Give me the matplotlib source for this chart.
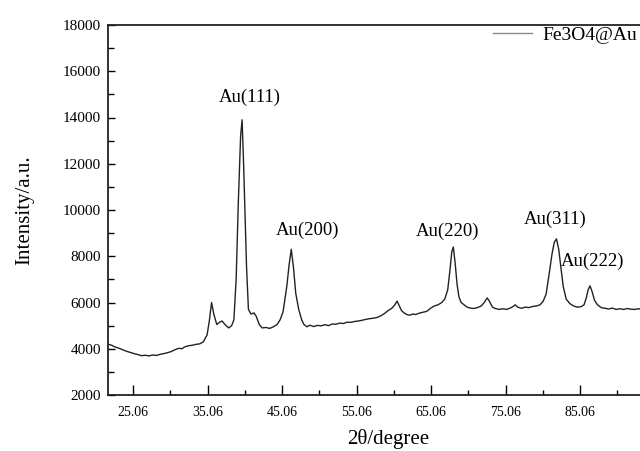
import numpy as np
import matplotlib
matplotlib.use("Agg")
import matplotlib.pyplot as plt
from matplotlib.ticker import MultipleLocator, FixedLocator

plt.rcParams['font.family'] = ['Liberation Serif', 'DejaVu Serif']

# XRD pattern
two_theta = [
    21.7, 22.2, 22.7, 23.2, 23.7, 24.2, 24.7, 25.2, 25.7, 26.2, 26.7, 27.2, 27.7, 28.2,
    28.7, 29.2, 29.7, 30.2, 30.7, 31.2, 31.6, 32.0, 32.5, 33.0, 33.5, 34.0, 34.5, 35.0,
    35.3, 35.6, 35.9, 36.3, 36.7, 37.0, 37.4, 37.9, 38.3, 38.6, 38.9, 39.2, 39.5, 39.7,
    39.9, 40.1, 40.3, 40.55, 40.9, 41.3, 41.6, 42.0, 42.4, 42.9, 43.4, 43.9, 44.4, 44.8,
    45.2, 45.7, 46.0, 46.3, 46.6, 46.9, 47.3, 47.7, 48.0, 48.4, 48.8, 49.3, 49.8, 50.3,
    50.8, 51.3, 51.8, 52.3, 52.8, 53.3, 53.8, 54.3, 54.8, 55.3, 55.8, 56.3, 56.8, 57.3,
    57.8, 58.3, 58.8, 59.3, 59.8, 60.2, 60.5, 60.8, 61.1, 61.4, 61.8, 62.2, 62.6, 63.0,
    63.5, 64.0, 64.5, 65.0, 65.5, 66.0, 66.5, 66.9, 67.3, 67.6, 67.85, 68.05, 68.3, 68.55,
    68.8, 69.1, 69.5, 69.9, 70.3, 70.8, 71.3, 71.8, 72.2, 72.6, 72.9, 73.3, 73.7, 74.2,
    74.7, 75.2, 75.7, 76.1, 76.35, 76.7, 77.2, 77.7, 78.2, 78.7, 79.2, 79.7, 80.1, 80.5,
    80.9, 81.3, 81.6, 81.9, 82.2, 82.5, 82.8, 83.2, 83.7, 84.2, 84.7, 85.2, 85.6, 85.9,
    86.15, 86.4, 86.7, 87.0, 87.4, 87.9, 88.4, 88.9, 89.4, 89.9, 90.4, 90.9, 91.4, 91.9,
    92.4, 92.9, 93.3, 94.0, 95.0, 96.0,
]
intensity = [
    4200, 4150, 4070, 4020, 3950, 3890, 3840, 3790, 3750, 3700, 3720, 3690, 3730, 3710,
    3760, 3790, 3830, 3880, 3960, 4020, 4000, 4080, 4130, 4150, 4190, 4210, 4300, 4600,
    5200, 6000, 5500, 5050, 5150, 5200, 5050, 4900, 5000, 5250, 7000, 10400, 13200, 13900,
    12000, 9700, 7500, 5700, 5500, 5550, 5400, 5050, 4900, 4920, 4880, 4950, 5050, 5250,
    5600, 6700, 7600, 8300, 7500, 6400, 5700, 5250, 5050, 4950, 5020, 4960, 5010, 4990,
    5040, 5000, 5070, 5060, 5110, 5090, 5150, 5140, 5180, 5200, 5230, 5270, 5300, 5320,
    5350, 5420, 5520, 5650, 5750, 5900, 6060, 5850, 5650, 5560, 5480, 5450, 5500, 5480,
    5540, 5580, 5620, 5750, 5850, 5900, 6000, 6150, 6550, 7400, 8200, 8400, 7700, 6800,
    6250, 6000, 5900, 5800, 5760, 5740, 5780, 5850, 6000, 6200, 6050, 5800, 5740, 5700,
    5730, 5700, 5760, 5830, 5900, 5800, 5750, 5800, 5780, 5830, 5850, 5900, 6050, 6350,
    7200, 8100, 8600, 8750, 8300, 7500, 6700, 6150, 5950, 5850, 5800, 5820, 5900, 6200,
    6550, 6720, 6450, 6100, 5900, 5780, 5750, 5720, 5760, 5700, 5730, 5700, 5740, 5710,
    5700, 5730, 5710, 5720, 5700, 5710,
]

peak_labels = ['Au(111)', 'Au(200)', 'Au(220)', 'Au(311)', 'Au(222)']
peak_label_x = [40.76, 48.55, 67.34, 81.67, 86.8]
peak_label_y = [14886, 9100, 9060, 9600, 7800]

x_ticks = [25.06, 35.06, 45.06, 55.06, 65.06, 75.06, 85.06]
x_minor = [30.06, 40.06, 50.06, 60.06, 70.06, 80.06, 90.06]

fig = plt.figure(figsize=(6.4, 4.51), dpi=100)
ax = fig.add_axes([108 / 640, 56 / 451, 560 / 640, 370 / 451])

ax.plot(two_theta, intensity, color='#222222', linewidth=1.0, label='Fe3O4@Au')

for lab, lx, ly in zip(peak_labels, peak_label_x, peak_label_y):
    ax.text(lx, ly, lab, ha='center', va='center', fontsize=13.5)

ax.set_xlim(21.7, 21.7 + 560 / 7.45)
ax.set_ylim(2000, 18000)

ax.xaxis.set_major_locator(FixedLocator(x_ticks))
ax.xaxis.set_minor_locator(FixedLocator(x_minor))
ax.set_xticklabels([f"{t:.2f}" for t in x_ticks])
ax.yaxis.set_major_locator(MultipleLocator(2000))
ax.yaxis.set_minor_locator(MultipleLocator(1000))

ax.tick_params(axis='x', which='major', direction='in', length=7, width=1, labelsize=10, pad=8)
ax.tick_params(axis='x', which='minor', direction='in', length=3.5, width=1)
ax.tick_params(axis='y', which='major', direction='in', length=5, width=1, labelsize=11, pad=5)
ax.tick_params(axis='y', which='minor', direction='in', length=4, width=1)

for side in ['left', 'bottom', 'top']:
    ax.spines[side].set_linewidth(1.3)
    ax.spines[side].set_color('#222222')
ax.spines['right'].set_visible(False)

ax.set_xlabel('2θ/degree', fontsize=15, labelpad=7)
ax.set_ylabel('Intensity/a.u.', fontsize=15, labelpad=21)

leg = ax.legend(loc='center left', bbox_to_anchor=(493 / 640, 1 - 35 / 451),
                bbox_transform=fig.transFigure, frameon=False, fontsize=14,
                handlelength=2.0, handletextpad=0.55, borderpad=0, borderaxespad=0)
leg.get_lines()[0].set_color('#888888')

fig.savefig('out.png', dpi=100)
